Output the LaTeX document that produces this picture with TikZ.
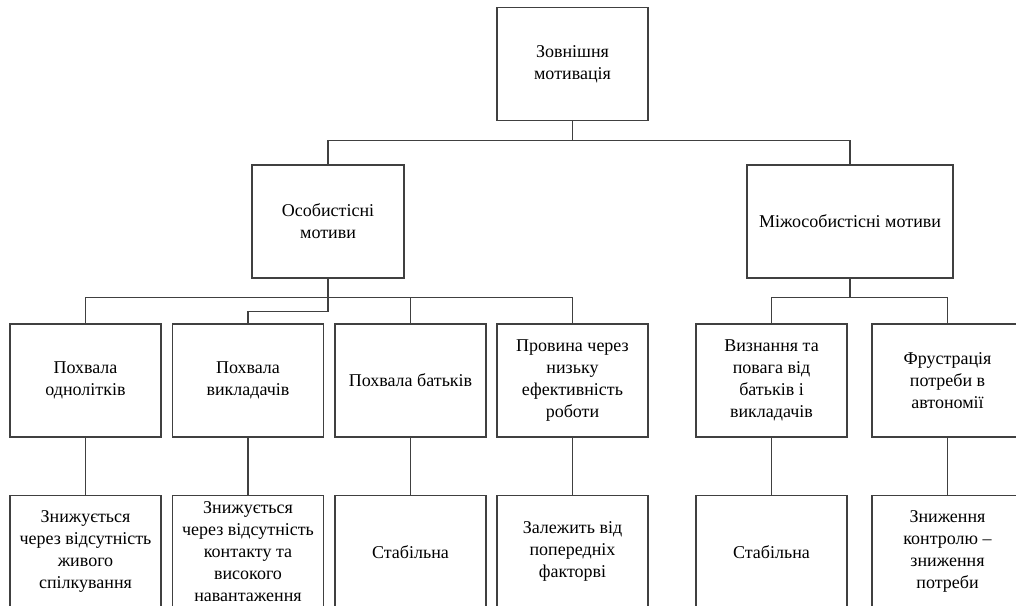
\documentclass[tikz,border=0pt]{standalone}
\usepackage{fontspec}
\setmainfont{Liberation Serif}
\usetikzlibrary{positioning}
\tikzset{
    box/.style = {draw=black!75, line width=1.3pt, minimum width=151pt, minimum height=113pt,
        align=center, inner sep=2pt, font=\fontsize{18}{22}\selectfont},
    wide box/.style = {box, minimum width=206pt},
    link/.style = {draw=black!75, line width=1.3pt},
}
\begin{document}
\begin{tikzpicture}[x=1pt, y=-1pt]
        \clip (0, 0) rectangle (1016, 605);
        \node[box] (ZM) at (572.5, 64) {Зовнішня\\мотивація};
        \node[box, minimum width=152pt] (OM) at (328, 221.5) {Особистісні\\мотиви};
        \node[wide box] (MM) at (850, 221.5) {Міжособистісні мотиви};

        \node[box] (PO) at (85.5, 380.5) {Похвала\\однолітків};
        \node[box] (PV) at (248, 380.5) {Похвала\\викладачів};
        \node[box] (PB) at (410.5, 380.5) {Похвала батьків};
        \node[box] (PR) at (572.5, 380.5) {Провина через\\низьку\\ефективність\\роботи};
        \node[box] (VP) at (771.5, 380.5) {Визнання та\\повага від\\батьків і\\викладачів};
        \node[box] (FA) at (947.5, 380.5) {Фрустрація\\потреби в\\автономії};

        \node[box, below=57pt of PO] (PO2) {Знижується\\через відсутність\\живого\\спілкування};
        \node[box, below=57pt of PV] (PV2) {Знижується\\через відсутність\\контакту та\\високого\\навантаження};
        \node[box, below=57pt of PB] (PB2) {Стабільна};
        \node[box, below=57pt of PR] (PR2) {Залежить від\\попередніх\\факторві};
        \node[box, below=57pt of VP] (VP2) {Стабільна};
        \node[box, below=57pt of FA] (FA2) {Зниження\\контролю --\\зниження\\потреби};

        \draw[link] (ZM.south) -- ++(0, 19) -| (OM.north);
        \draw[link] (ZM.south) -- ++(0, 19) -| (MM.north);
        \draw[link] (OM.south) -- ++(0, 19) -| (PO.north);
        \draw[link] (OM.south) -- ++(0, 33) -| (PV.north);
        \draw[link] (OM.south) -- ++(0, 19) -| (PB.north);
        \draw[link] (OM.south) -- ++(0, 19) -| (PR.north);
        \draw[link] (MM.south) -- ++(0, 19) -| (VP.north);
        \draw[link] (MM.south) -- ++(0, 19) -| (FA.north);
        \draw[link] (PO) -- (PO2);
        \draw[link] (PV) -- (PV2);
        \draw[link] (PB) -- (PB2);
        \draw[link] (PR) -- (PR2);
        \draw[link] (VP) -- (VP2);
        \draw[link] (FA) -- (FA2);
    \end{tikzpicture}
\end{document}
